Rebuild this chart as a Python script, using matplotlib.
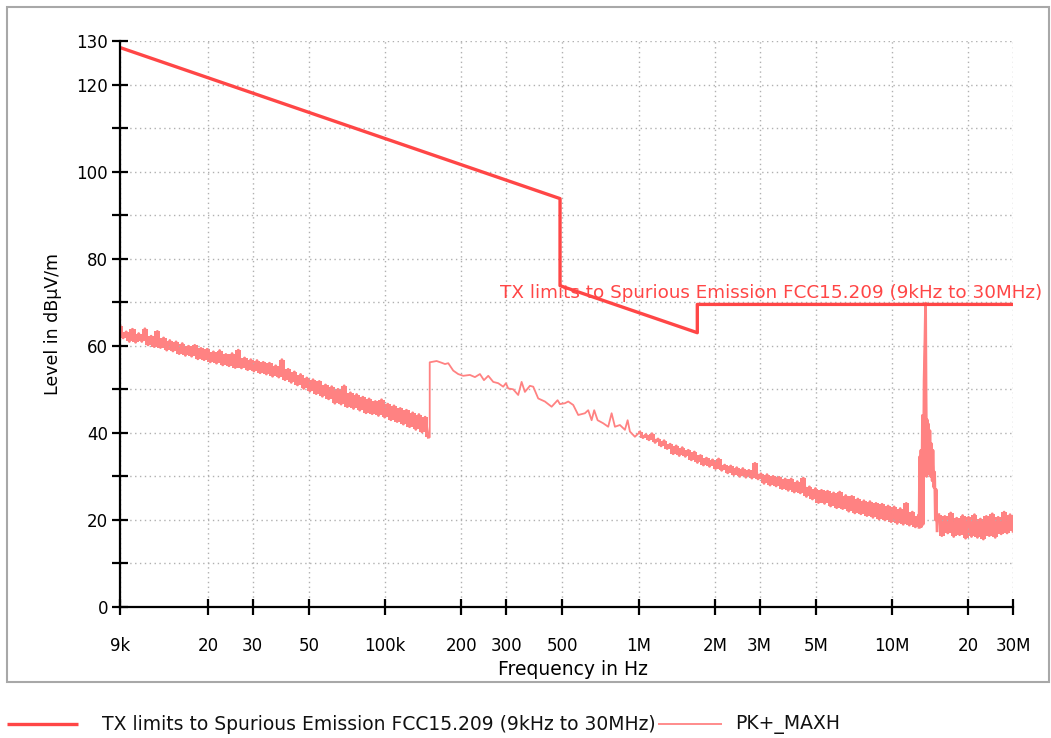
import matplotlib
matplotlib.use("Agg")
import matplotlib.pyplot as plt
import numpy as np
from matplotlib.patches import Rectangle
from matplotlib.ticker import NullLocator

# FCC 15.209 limit, breakpoints (Hz, dBuV/m)
limit_freq = [9e3, 490e3, 490e3, 1.705e6, 1.705e6, 30e6]
limit_level = [128.5, 93.8, 73.8, 63.0, 69.5, 69.5]

# PK+_MAXH trace
# 9 kHz .. 148 kHz (noisy part)
seg1_level = [
    64.6, 61.8, 63.2, 61.0, 63.8, 60.8, 62.8, 61.0, 63.9, 60.2,
    62.2, 59.8, 63.3, 59.6, 61.8, 59.0, 61.2, 58.8, 60.9, 58.2,
    60.5, 57.8, 59.9, 57.6, 60.1, 57.0, 59.4, 56.8, 59.2, 56.3,
    58.6, 56.0, 58.9, 55.6, 58.0, 55.4, 58.2, 55.0, 59.0, 54.9,
    57.2, 54.5, 56.8, 54.2, 56.6, 53.8, 56.2, 53.5, 56.0, 53.0,
    55.4, 52.8, 56.8, 52.2, 54.6, 51.6, 54.0, 51.0, 53.4, 50.2,
    52.6, 49.6, 52.2, 49.0, 51.8, 48.4, 51.0, 47.8, 50.6, 46.8,
    50.0, 46.6, 50.8, 46.0, 49.2, 45.6, 48.8, 45.2, 48.2, 44.6,
    47.8, 44.4, 47.2, 44.0, 47.6, 43.6, 46.6, 43.0, 46.2, 42.6,
    45.6, 42.0, 45.2, 41.4, 44.6, 40.8, 44.2, 40.2, 43.6, 39.0,
]
seg1_freq = np.geomspace(9e3, 1.48e5, len(seg1_level))

# band switch at 150 kHz
step_freq = [150e3, 150e3]
step_level = [39.0, 56.2]

# 150 kHz .. 1 MHz (smoother part)
seg2_freq_khz = [159.7, 167.1, 172.3, 177.5, 185.7, 194.3, 203.4, 216.1, 226.2, 236.7,
                 245.5, 255.3, 267.1, 279.5, 292.4, 299.7, 306.0, 320.2, 335.1, 345.6,
                 356.1, 372.7, 384.1, 401.9, 427.0, 453.9, 479.3, 489.5, 512.2, 527.8,
                 552.4, 578.1, 614.3, 632.9, 652.8, 668.3, 689.3, 725.3, 759.0, 782.8,
                 806.8, 844.2, 883.4, 905.4, 924.4, 967.4]
seg2_level = [56.5, 56.1, 55.8, 56.0, 54.3, 53.5, 53.1, 53.3, 52.8, 53.5,
              52.1, 53.1, 51.7, 51.4, 50.6, 51.4, 50.2, 50.0, 48.7, 51.7,
              49.4, 50.8, 50.6, 47.9, 47.2, 46.0, 47.5, 46.6, 46.8, 47.2,
              46.4, 44.1, 44.5, 45.2, 42.9, 45.2, 42.9, 42.2, 41.4, 44.5,
              41.4, 41.8, 40.7, 42.9, 40.3, 39.1]

# 1 MHz .. 12.7 MHz (noisy)
seg3_level = [
    40.2, 38.9, 39.6, 38.4, 39.8, 37.8, 38.6, 37.0, 38.2, 36.4,
    37.4, 35.2, 37.0, 34.8, 36.6, 34.6, 36.0, 33.8, 35.6, 33.2,
    34.8, 32.6, 34.2, 32.3, 33.8, 31.8, 34.0, 31.4, 32.6, 30.8,
    32.4, 30.4, 32.0, 30.0, 31.8, 29.8, 31.4, 29.6, 33.0, 29.4,
    30.6, 28.4, 30.4, 28.0, 30.0, 27.8, 29.8, 27.2, 29.4, 26.8,
    29.4, 26.4, 28.8, 26.2, 29.6, 25.4, 27.6, 24.8, 27.2, 24.0,
    26.8, 23.8, 26.6, 23.2, 26.2, 22.8, 26.4, 22.6, 25.6, 22.0,
    25.4, 21.6, 24.8, 21.4, 24.4, 21.0, 24.2, 20.6, 23.8, 20.2,
    23.6, 20.0, 23.2, 19.6, 23.0, 19.2, 22.6, 19.0, 23.8, 18.8,
    21.8, 18.4, 21.0,
]
seg3_freq = np.geomspace(1.012e6, 12.7e6, len(seg3_level))

# 13.56 MHz carrier
spike_freq_mhz = [12.78, 12.85, 12.92, 13.00, 13.08, 13.18, 13.26, 13.38, 13.47, 13.56,
                  13.62, 13.68, 13.76, 13.84, 13.92, 14.00, 14.10, 14.20, 14.30, 14.40,
                  14.50, 14.62, 14.72, 14.82, 14.92, 15.05]
spike_level = [18.3, 34.5, 18.4, 36.0, 18.5, 44.0, 19.0, 52.0, 60.0, 69.8,
               48.0, 30.0, 43.0, 31.0, 42.0, 30.5, 40.5, 30.0, 37.5, 29.0,
               36.0, 27.5, 31.0, 20.0, 27.0, 17.5]

# 15 MHz .. 30 MHz (noise floor)
seg5_level = [21.2, 16.4, 20.8, 17.0, 21.6, 16.2, 20.4, 16.6, 21.0, 15.8,
              20.6, 16.2, 21.2, 16.0, 20.2, 15.6, 20.8, 16.4, 21.4, 16.0,
              20.6, 16.8, 21.8, 17.0, 21.2, 17.4]
seg5_freq = np.geomspace(15.3e6, 30e6, len(seg5_level))

spike_freq = np.array(spike_freq_mhz) * 1e6
trace_freq = np.concatenate([seg1_freq, step_freq, np.array(seg2_freq_khz) * 1e3,
                             seg3_freq, spike_freq, seg5_freq])
trace_level = np.concatenate([seg1_level, step_level, seg2_level,
                              seg3_level, spike_level, seg5_level])

x_ticks = [9e3, 2e4, 3e4, 5e4, 1e5, 2e5, 3e5, 5e5, 1e6, 2e6, 3e6, 5e6, 1e7, 2e7, 3e7]
x_labels = ["9k", "20", "30", "50", "100k", "200", "300", "500",
            "1M", "2M", "3M", "5M", "10M", "20", "30M"]
y_ticks = list(range(0, 131, 10))
y_labels = ["0", "", "20", "", "40", "", "60", "", "80", "", "100", "", "120", "130"]

limit_name = "TX limits to Spurious Emission FCC15.209 (9kHz to 30MHz)"
trace_name = "PK+_MAXH"

limit_color = "#ff4646"
trace_color = "#ff8282"

W, H = 1051, 738
fig = plt.figure(figsize=(W / 100, H / 100), dpi=100)

# frame + legend drawn in pixel coords
bg = fig.add_axes([0, 0, 1, 1])
bg.set_xlim(0, W)
bg.set_ylim(H, 0)
bg.axis("off")
bg.add_patch(Rectangle((7, 7), 1042, 675, fill=False, edgecolor="#a8a8a8", lw=1.5))
bg.plot([7, 78], [724, 724], color=limit_color, lw=2.4, solid_capstyle="butt")
bg.text(102, 724, limit_name, fontsize=13.5, va="center", ha="left", color="#111111")
bg.plot([658, 722], [724, 724], color=trace_color, lw=1.3, solid_capstyle="butt")
bg.text(735, 724, trace_name, fontsize=13.5, va="center", ha="left", color="#111111")

ax = fig.add_axes([120 / W, 1 - 607 / H, 893 / W, 566 / H])
ax.patch.set_alpha(0)


def band(f, lv):
    # fill the span the sweep covers between neighbouring points
    lv = np.asarray(lv)
    hi = np.maximum(lv[:-1], lv[1:])
    lo = np.minimum(lv[:-1], lv[1:])
    ax.fill_between(f, np.append(lo, lo[-1]), np.append(hi, hi[-1]),
                    step="post", color=trace_color, lw=0)
    ax.plot(f, lv, color=trace_color, lw=2.0)


for f, lv in [(seg1_freq, seg1_level), (seg3_freq, seg3_level),
              (spike_freq, spike_level), (seg5_freq, seg5_level)]:
    band(f, lv)
ax.plot(trace_freq, trace_level, color=trace_color, lw=1.3)
ax.plot(limit_freq, limit_level, color=limit_color, lw=2.4)
ax.text(2.84e5, 71.0, limit_name, color=limit_color, fontsize=13.2,
        va="baseline", ha="left", clip_on=False)

ax.set_xscale("log")
ax.set_xlim(9e3, 30e6)
ax.set_ylim(0, 130)
ax.set_xticks(x_ticks)
ax.set_xticklabels(x_labels)
ax.xaxis.set_minor_locator(NullLocator())
ax.set_yticks(y_ticks)
ax.set_yticklabels(y_labels)

for s in ["top", "right"]:
    ax.spines[s].set_visible(False)
for s in ["left", "bottom"]:
    ax.spines[s].set_linewidth(1.6)
    ax.spines[s].set_color("black")

ax.grid(True, which="major", linestyle=(0, (1, 2.5)), color="#b0b0b0", lw=1)
ax.tick_params(direction="inout", length=11, width=1.6, labelsize=12, colors="black")
ax.tick_params(axis="x", pad=16)
ax.tick_params(axis="y", pad=3)

ax.set_xlabel("Frequency in Hz", fontsize=13.5)
ax.set_ylabel("Level in dBµV/m", fontsize=12.5)
ax.xaxis.set_label_coords(0.507, -0.094)
ax.yaxis.set_label_coords(-0.065, 0.5)

fig.savefig("out.png", dpi=100)
